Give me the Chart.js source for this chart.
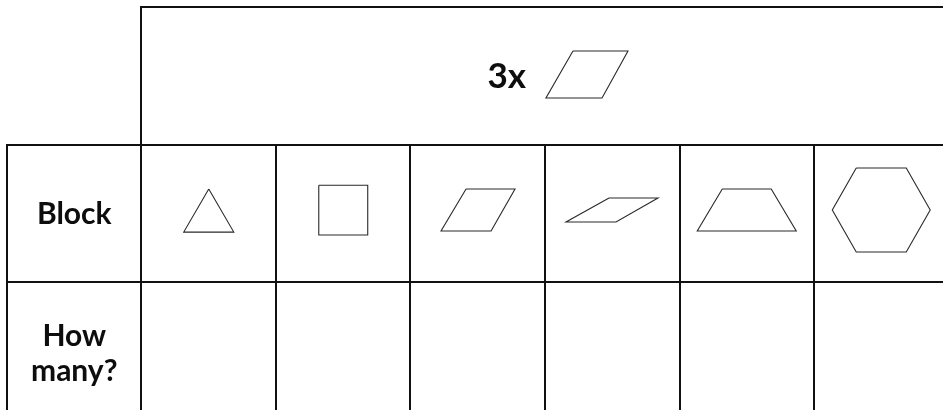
<!DOCTYPE html>
<html>
<head>
<meta charset="utf-8">
<script src="https://cdn.jsdelivr.net/npm/chart.js@4/dist/chart.umd.min.js"></script>
<style>
  html, body { margin: 0; padding: 0; background: #ffffff; }
  #wrap { width: 943px; height: 410px; }
</style>
</head>
<body>
<div id="wrap"><canvas id="c" width="943" height="410"></canvas></div>
<script>
// ---- data ----
const headerLabel = "3x";
const rowLabels = ["Block", "How many?"];
const blockNames = ["triangle", "square", "rhombus", "thin rhombus", "trapezoid", "hexagon"];
// vertex outlines of each block, as fractions of a cell, relative to the cell centre
const triangle    = [[0, -0.176], [0.186, 0.137], [-0.186, 0.137]];
const square      = [[-0.182, -0.204], [0.182, -0.204], [0.182, 0.158], [-0.182, 0.158]];
const rhombus     = [[-0.087, -0.176], [0.277, -0.176], [0.099, 0.129], [-0.273, 0.129]];
const thinRhombus = [[-0.024, -0.111], [0.340, -0.111], [0.028, 0.064], [-0.344, 0.064]];
const trapezoid   = [[-0.182, -0.176], [0.182, -0.176], [0.368, 0.129], [-0.368, 0.129]];
const hexagon     = [[-0.186, -0.329], [0.186, -0.329], [0.364, -0.024], [0.186, 0.282], [-0.186, 0.282], [-0.364, -0.024]];
const headerBlock = [[0.208, -0.180], [0.617, -0.180], [0.424, 0.162], [0.007, 0.162]];
const blockShapes = [triangle, square, rhombus, thinRhombus, trapezoid, hexagon];
const howMany = ["", "", "", "", "", ""];

// ---- layout (grid units: one column / one row = 1) ----
const nCols = 7;           // label column + 6 block columns
const nRows = 3;           // header row + block row + count row
const LINE = '#111111';
const SHAPE = '#2a2a2a';

function outline(shape, cx, cy) {
  const pts = shape.map(p => ({ x: cx + p[0], y: cy + p[1] }));
  pts.push({ x: pts[0].x, y: pts[0].y });
  return pts;
}

const datasets = [];
blockShapes.forEach((s, i) => {
  datasets.push({
    label: blockNames[i],
    data: outline(s, i + 1.5, 1.5),
    showLine: true, borderColor: SHAPE, borderWidth: 1.1,
    pointRadius: 0, tension: 0, fill: false
  });
});
datasets.push({
  label: 'header block',
  data: outline(headerBlock, (1 + nCols) / 2, 0.5),
  showLine: true, borderColor: SHAPE, borderWidth: 1.1,
  pointRadius: 0, tension: 0, fill: false
});

const tablePlugin = {
  id: 'table',
  beforeDatasetsDraw(chart) {
    const { ctx, scales: { x, y } } = chart;
    const X = v => Math.round(x.getPixelForValue(v)), Y = v => Math.round(y.getPixelForValue(v));
    ctx.save();
    ctx.strokeStyle = LINE;
    ctx.lineWidth = 2;
    ctx.lineCap = 'square';
    const seg = (x1, y1, x2, y2) => { ctx.beginPath(); ctx.moveTo(X(x1), Y(y1)); ctx.lineTo(X(x2), Y(y2)); ctx.stroke(); };
    // header box
    seg(1, 0, nCols, 0);
    seg(1, 0, 1, nRows);
    seg(nCols, 0, nCols, nRows);
    // row lines
    for (let r = 1; r <= nRows; r++) seg(0, r, nCols, r);
    // column lines
    seg(0, 1, 0, nRows);
    for (let c = 2; c < nCols; c++) seg(c, 1, c, nRows);
    ctx.restore();
  },
  afterDatasetsDraw(chart) {
    const { ctx, scales: { x, y } } = chart;
    const X = v => x.getPixelForValue(v), Y = v => y.getPixelForValue(v);
    ctx.save();
    ctx.fillStyle = '#0d0d0d';
    ctx.textAlign = 'center';
    ctx.textBaseline = 'alphabetic';
    // row labels
    const fs = 30, cap = fs * 0.7165, lh = 35;
    ctx.font = `bold ${fs}px Lato`;
    rowLabels.forEach((lab, i) => {
      const words = lab.split(' ');
      const cy = Y(i + 1.5);
      const n = words.length;
      words.forEach((w, k) => {
        const by = cy + cap / 2 + (k - (n - 1) / 2) * lh + (n > 1 ? 2.5 : 0);
        ctx.fillText(w, X(0.5), by);
      });
    });
    // header label
    const hs = 35;
    ctx.font = `bold ${hs}px Lato`;
    ctx.fillText(headerLabel, X((1 + nCols) / 2 - 0.285), Y(0.5) + hs * 0.7165 / 2);
    // counts (empty)
    howMany.forEach((v, i) => { if (v !== '') ctx.fillText(v, X(i + 1.5), Y(2.5)); });
    ctx.restore();
  }
};

// cell sizes in px: 134.5 wide, 137.5 tall; table starts 7px from left/top
const colPx = 134.5, rowPx = 137.5, off = 7;
new Chart(document.getElementById('c'), {
  type: 'scatter',
  data: { datasets },
  options: {
    responsive: false,
    animation: false,
    devicePixelRatio: 1,
    layout: { padding: 0 },
    plugins: { legend: { display: false }, tooltip: { enabled: false } },
    scales: {
      x: { type: 'linear', display: false, min: -off / colPx, max: (943 - off) / colPx },
      y: { type: 'linear', display: false, reverse: true, min: -off / rowPx, max: (410 - off) / rowPx }
    }
  },
  plugins: [tablePlugin]
});
</script>
</body>
</html>
